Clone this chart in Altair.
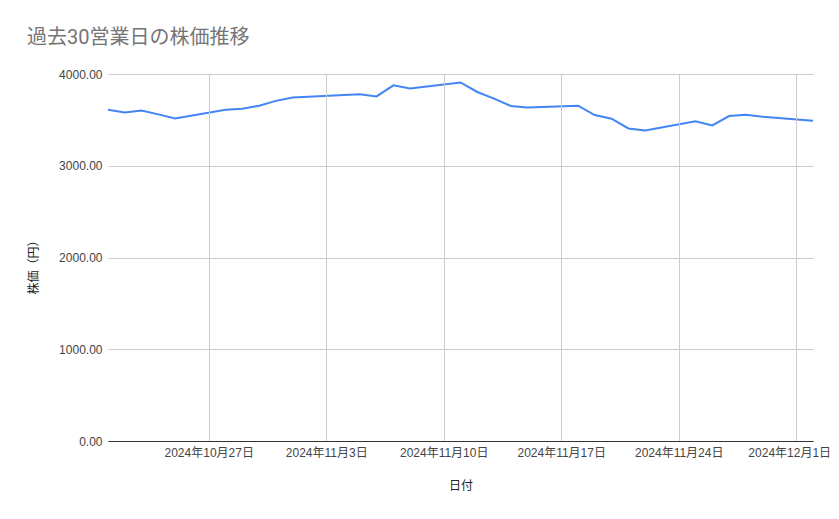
import altair as alt
import pandas as pd

dates = [
    "2024-10-21", "2024-10-22", "2024-10-23", "2024-10-24", "2024-10-25",
    "2024-10-28", "2024-10-29", "2024-10-30", "2024-10-31", "2024-11-01",
    "2024-11-05", "2024-11-06", "2024-11-07", "2024-11-08",
    "2024-11-11", "2024-11-12", "2024-11-13", "2024-11-14", "2024-11-15",
    "2024-11-18", "2024-11-19", "2024-11-20", "2024-11-21", "2024-11-22",
    "2024-11-25", "2024-11-26", "2024-11-27", "2024-11-28", "2024-11-29",
    "2024-12-02",
]
prices = [
    3611, 3581, 3603, 3560, 3516,
    3611, 3622, 3654, 3707, 3744,
    3780, 3756, 3876, 3843,
    3908, 3804, 3731, 3651, 3636,
    3654, 3553, 3513, 3407, 3385,
    3484, 3440, 3542, 3556, 3535,
    3491,
]
y_ticks = [0, 1000, 2000, 3000, 4000]
x_ticks = [(2024, 10, 27), (2024, 11, 3), (2024, 11, 10), (2024, 11, 17), (2024, 11, 24), (2024, 12, 1)]

df = pd.DataFrame({"日付": [d + "T00:00:00" for d in dates], "株価": prices})

FONT = "Liberation Sans, Arial, 'Noto Sans CJK JP', sans-serif"

chart = alt.Chart(df).mark_line(color="#4285F4", strokeWidth=2).encode(
    x=alt.X(
        "日付:T",
        scale=alt.Scale(
            domain=[alt.DateTime(year=2024, month=10, date=21), alt.DateTime(year=2024, month=12, date=2)],
            nice=False,
        ),
        axis=alt.Axis(
            title="日付",
            values=[alt.DateTime(year=y, month=m, date=d) for (y, m, d) in x_ticks],
            format="%Y年%-m月%-d日",
            formatType="time",
            labelAngle=0,
            labelPadding=6,
            labelFontSize=12,
            labelColor="#444444",
            labelFont=FONT,
            labelOverlap=False,
            labelFlush=False,
            labelOffset={"condition": {"test": "month(datum.value) == 11", "value": -7}, "value": 0},
            ticks=False,
            grid=True,
            gridColor="#cccccc",
            domain=True,
            domainColor="#333333",
            titleFont=FONT,
            titleFontSize=12,
            titleFontWeight="normal",
            titleColor="#222222",
            titleX=352.5,
            titleY=44,
            titleBaseline="middle",
            titleAlign="center",
            zindex=1,
        ),
    ),
    y=alt.Y(
        "株価:Q",
        scale=alt.Scale(domain=[0, 4000], nice=False),
        axis=alt.Axis(
            title="株価（円）",
            values=y_ticks,
            format=".2f",
            labelPadding=6,
            labelFontSize=12,
            labelColor="#444444",
            labelFont=FONT,
            ticks=False,
            grid=True,
            gridColor="#cccccc",
            domain=False,
            titleFont=FONT,
            titleFontSize=12,
            titleFontWeight="normal",
            titleColor="#222222",
            titleX=-75,
            titleY=190,
            titleAngle=-90,
            titleBaseline="middle",
            titleAlign="center",
        ),
    ),
).properties(
    width=705,
    height=367,
    title=alt.TitleParams(
        text="過去30営業日の株価推移",
        anchor="start",
        frame="group",
        dx=-81,
        offset=20,
        fontSize=20,
        fontWeight="normal",
        color="#757575",
        font="Roboto, 'Noto Sans CJK JP', sans-serif",
    ),
    autosize=alt.AutoSizeParams(type="none"),
    padding={"left": 100, "top": 66, "right": 18, "bottom": 60},
).configure_view(stroke=None)

chart.save("out.html", embed_options={"renderer": "svg", "actions": False})
